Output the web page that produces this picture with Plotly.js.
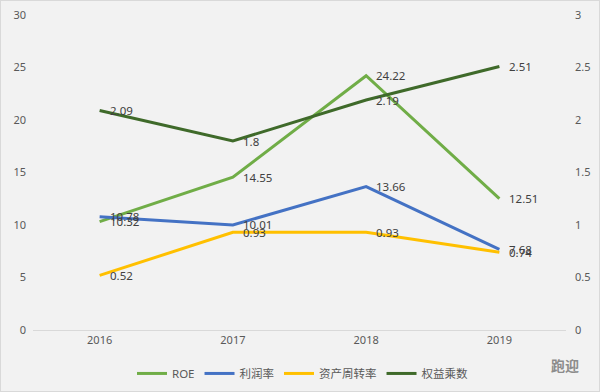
<!DOCTYPE html>
<html><head><meta charset="utf-8">
<script src="https://cdn.plot.ly/plotly-3.0.1.min.js"></script>
<style>html,body{margin:0;padding:0;background:#f2f2f2;}#c{width:598px;height:390px;border:1px solid #d9d9d9;}</style>
</head><body><div id="c"></div>
<script>
const years = ['2016','2017','2018','2019'];
const roe = [10.32, 14.55, 24.22, 12.51];
const profitMargin = [10.78, 10.01, 13.66, 7.68];
const assetTurnover = [0.52, 0.93, 0.93, 0.74];
const equityMultiplier = [2.09, 1.8, 2.19, 2.51];
const names = ['ROE','利润率','资产周转率','权益乘数'];
const font = "'Noto Sans','Noto Sans CJK SC',sans-serif";
const series = [
  {y: roe, name: names[0], color:'#70ad47', axis:'y'},
  {y: profitMargin, name: names[1], color:'#4472c4', axis:'y'},
  {y: assetTurnover, name: names[2], color:'#ffc000', axis:'y2'},
  {y: equityMultiplier, name: names[3], color:'#3f6a2a', axis:'y2'}
];
const data = series.map(s => ({x: years, y: s.y, name: s.name, type:'scatter', mode:'lines',
  yaxis: s.axis, line:{color:s.color, width:3}}));
const labels = [];
series.forEach(s => s.y.forEach((v,i) => labels.push({
  x: i, y: v, xref:'x', yref: s.axis, text: String(v), showarrow:false,
  xanchor:'left', yanchor:'middle', xshift:8,
  font:{size:11.5, color:'#404040', family:font}
})));
labels.push({xref:'paper', yref:'paper', x:1.028, y:-0.112, xanchor:'right', yanchor:'middle', text:'<b>跑迎</b>', showarrow:false, font:{size:14, color:'#8c8c8c', family:"'Noto Sans CJK SC',sans-serif"}});
const layout = {
  width:598, height:390,
  margin:{l:32, r:33, t:14, b:61},
  paper_bgcolor:'#f2f2f2', plot_bgcolor:'#f2f2f2',
  font:{family:font, color:'#595959', size:11},
  showlegend:true,
  legend:{orientation:'h', x:0.505, xanchor:'center', xref:'container', yref:'container', y:0.045, yanchor:'middle', font:{size:11.5, color:'#595959'}, bgcolor:'rgba(0,0,0,0)'},
  xaxis:{type:'category', range:[-0.5,3.5], showgrid:false, zeroline:false, showline:true, linecolor:'#d9d9d9', linewidth:1, ticks:'', tickfont:{size:11, color:'#595959'}, automargin:false},
  yaxis:{range:[0,30], dtick:5, showgrid:false, zeroline:false, showline:false, ticks:'', tickfont:{size:11, color:'#595959'}, ticklabelstandoff:6, automargin:false},
  yaxis2:{range:[0,3], dtick:0.5, overlaying:'y', side:'right', showgrid:false, zeroline:false, showline:false, ticks:'', tickfont:{size:11, color:'#595959'}, ticklabelstandoff:8, automargin:false},
  annotations: labels
};
Plotly.newPlot('c', data, layout, {displayModeBar:false, staticPlot:true});
</script></body></html>
